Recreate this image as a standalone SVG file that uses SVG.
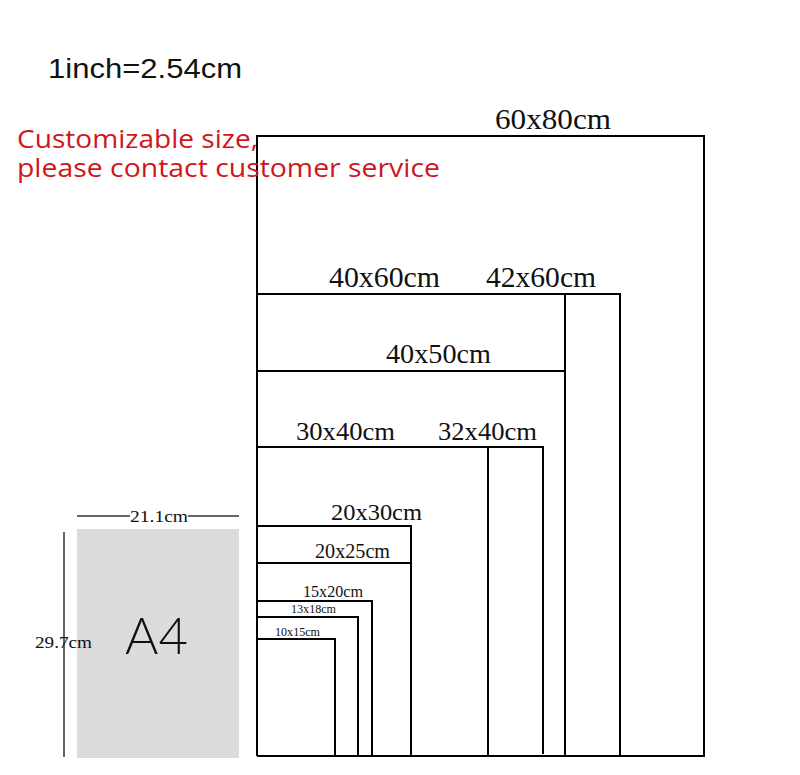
<svg xmlns="http://www.w3.org/2000/svg" width="800" height="775" viewBox="0 0 800 775">
<style>
.frame{fill:none;stroke:#000;stroke-width:2;stroke-linejoin:miter}
.lbl{font-family:"Liberation Serif","Times New Roman",serif;fill:#111}
.dim{stroke:#333;stroke-width:1.5;fill:none}
</style>
<rect width="800" height="775" fill="#fff"/>
<text x="48" y="78" font-family="'Liberation Sans',Arial,sans-serif" font-size="27" textLength="194" lengthAdjust="spacingAndGlyphs" fill="#111">1inch=2.54cm</text>

<g id="a4">
<rect x="77" y="529" width="162" height="229" fill="#dcdcdc"/>
<text x="125" y="654" font-family="Lato,'Noto Sans',sans-serif" font-weight="300" font-size="51" textLength="63" lengthAdjust="spacingAndGlyphs" fill="#111">A4</text>
<path class="dim" d="M77,516H130M188,516H239"/>
<text class="lbl" x="130" y="522" font-size="16" textLength="58" lengthAdjust="spacingAndGlyphs">21.1cm</text>
<path class="dim" d="M64,532V757"/>
<text class="lbl" x="35" y="648" font-size="16" textLength="57" lengthAdjust="spacingAndGlyphs">29.7cm</text>
</g>

<g id="frames">
<g id="f60x80"><path class="frame" d="M257,756V136H704V756H257"/><text class="lbl" x="495" y="129" font-size="30" textLength="116" lengthAdjust="spacingAndGlyphs">60x80cm</text></g>
<g id="f42x60"><path class="frame" d="M257,294H620V756"/><text class="lbl" x="486" y="287" font-size="29" textLength="110" lengthAdjust="spacingAndGlyphs">42x60cm</text></g>
<g id="f40x60"><path class="frame" d="M257,294H565V756"/><text class="lbl" x="329" y="287" font-size="29" textLength="111" lengthAdjust="spacingAndGlyphs">40x60cm</text></g>
<g id="f40x50"><path class="frame" d="M257,371H565V756"/><text class="lbl" x="386" y="363" font-size="28" textLength="105" lengthAdjust="spacingAndGlyphs">40x50cm</text></g>
<g id="f32x40"><path class="frame" d="M257,447H543V754"/><text class="lbl" x="438" y="440" font-size="26" textLength="99" lengthAdjust="spacingAndGlyphs">32x40cm</text></g>
<g id="f30x40"><path class="frame" d="M257,447H488V756"/><text class="lbl" x="296" y="440" font-size="26" textLength="99" lengthAdjust="spacingAndGlyphs">30x40cm</text></g>
<g id="f20x30"><path class="frame" d="M257,526H411V756"/><text class="lbl" x="331" y="520" font-size="24" textLength="91" lengthAdjust="spacingAndGlyphs">20x30cm</text></g>
<g id="f20x25"><path class="frame" d="M257,563H411V756"/><text class="lbl" x="315" y="558" font-size="20" textLength="75" lengthAdjust="spacingAndGlyphs">20x25cm</text></g>
<g id="f15x20"><path class="frame" d="M257,601H372V756"/><text class="lbl" x="303" y="597" font-size="16" textLength="60" lengthAdjust="spacingAndGlyphs">15x20cm</text></g>
<g id="f13x18"><path class="frame" d="M257,617H358V756"/><text class="lbl" x="291" y="613" font-size="12" textLength="45" lengthAdjust="spacingAndGlyphs">13x18cm</text></g>
<g id="f10x15"><path class="frame" d="M257,639H335V756"/><text class="lbl" x="275" y="636" font-size="12" textLength="45" lengthAdjust="spacingAndGlyphs">10x15cm</text></g>
</g>

<g id="note" font-family="'Open Sans','Noto Sans',sans-serif" font-size="25" fill="#d0161c">
<text x="17" y="148" textLength="241" lengthAdjust="spacingAndGlyphs">Customizable size,</text>
<text x="17" y="177" textLength="423" lengthAdjust="spacingAndGlyphs">please contact customer service</text>
</g>
</svg>
